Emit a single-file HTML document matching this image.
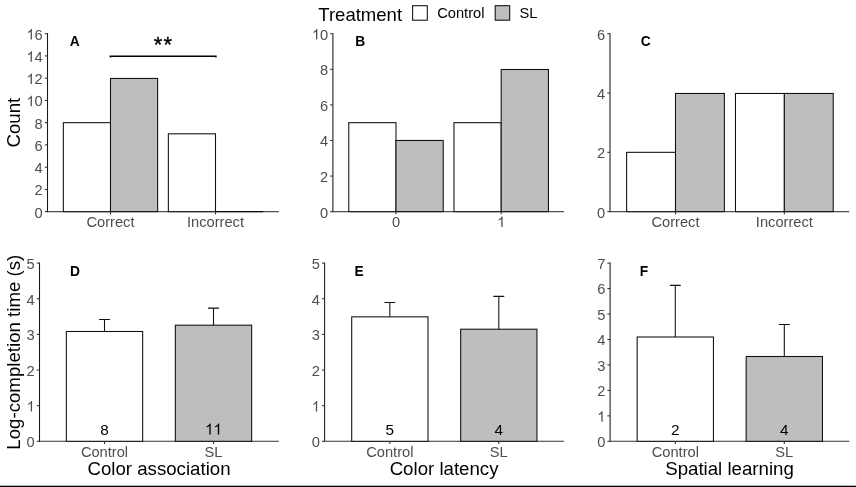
<!DOCTYPE html>
<html><head><meta charset="utf-8"><title>Figure</title>
<style>
html,body{margin:0;padding:0;background:#fff;}
body{width:856px;height:487px;overflow:hidden;}
svg{display:block;will-change:transform;font-family:"Liberation Sans",sans-serif;}
</style></head><body>
<svg width="856" height="487" viewBox="0 0 856 487">
<rect x="0" y="0" width="856" height="487" fill="#fff"/>
<text x="318.3" y="20.5" font-size="18.55" fill="#000">Treatment</text>
<rect x="412.6" y="5.7" width="14.7" height="14.5" fill="#fff" stroke="#111" stroke-width="1.07"/>
<text x="437.2" y="18.2" font-size="14.67" fill="#000">Control</text>
<rect x="495.2" y="5.7" width="14.5" height="14.5" fill="#BEBEBE" stroke="#111" stroke-width="1.07"/>
<text x="519.5" y="18.2" font-size="14.67" fill="#000">SL</text>
<path d="M47.50 211.65H278.80" stroke="#505050" stroke-width="1.07" fill="none"/>
<rect x="63.35" y="122.68" width="47.15" height="88.97" fill="#fff" stroke="#111" stroke-width="1.07"/>
<rect x="110.50" y="78.45" width="47.14" height="133.20" fill="#BEBEBE" stroke="#111" stroke-width="1.07"/>
<rect x="168.36" y="133.80" width="47.14" height="77.85" fill="#fff" stroke="#111" stroke-width="1.07"/>
<path d="M214.97 211.65H263.18" stroke="#111" stroke-width="1.34" fill="none"/>
<path d="M47.50 33.17V212.19" stroke="#1a1a1a" stroke-width="1.07" fill="none"/>
<path d="M44.80 211.65H47.50" stroke="#333333" stroke-width="1.07"/>
<text x="42.75" y="217.55" font-size="14.67" text-anchor="end" fill="#4D4D4D">0</text>
<path d="M44.80 189.41H47.50" stroke="#333333" stroke-width="1.07"/>
<text x="42.75" y="195.31" font-size="14.67" text-anchor="end" fill="#4D4D4D">2</text>
<path d="M44.80 167.16H47.50" stroke="#333333" stroke-width="1.07"/>
<text x="42.75" y="173.06" font-size="14.67" text-anchor="end" fill="#4D4D4D">4</text>
<path d="M44.80 144.92H47.50" stroke="#333333" stroke-width="1.07"/>
<text x="42.75" y="150.82" font-size="14.67" text-anchor="end" fill="#4D4D4D">6</text>
<path d="M44.80 122.68H47.50" stroke="#333333" stroke-width="1.07"/>
<text x="42.75" y="128.58" font-size="14.67" text-anchor="end" fill="#4D4D4D">8</text>
<path d="M44.80 100.43H47.50" stroke="#333333" stroke-width="1.07"/>
<path transform="translate(26.43,106.33) scale(0.00716,-0.00716)" d="M763 0H583V1147Q518 1085 412.5 1023Q307 961 223 930V1104Q374 1175 487 1276Q600 1377 647 1472H763Z" fill="#4D4D4D"/>
<text x="34.59" y="106.33" font-size="14.67" fill="#4D4D4D">0</text>
<path d="M44.80 78.19H47.50" stroke="#333333" stroke-width="1.07"/>
<path transform="translate(26.43,84.09) scale(0.00716,-0.00716)" d="M763 0H583V1147Q518 1085 412.5 1023Q307 961 223 930V1104Q374 1175 487 1276Q600 1377 647 1472H763Z" fill="#4D4D4D"/>
<text x="34.59" y="84.09" font-size="14.67" fill="#4D4D4D">2</text>
<path d="M44.80 55.94H47.50" stroke="#333333" stroke-width="1.07"/>
<path transform="translate(26.43,61.84) scale(0.00716,-0.00716)" d="M763 0H583V1147Q518 1085 412.5 1023Q307 961 223 930V1104Q374 1175 487 1276Q600 1377 647 1472H763Z" fill="#4D4D4D"/>
<text x="34.59" y="61.84" font-size="14.67" fill="#4D4D4D">4</text>
<path d="M44.80 33.70H47.50" stroke="#333333" stroke-width="1.07"/>
<path transform="translate(26.43,39.60) scale(0.00716,-0.00716)" d="M763 0H583V1147Q518 1085 412.5 1023Q307 961 223 930V1104Q374 1175 487 1276Q600 1377 647 1472H763Z" fill="#4D4D4D"/>
<text x="34.59" y="39.60" font-size="14.67" fill="#4D4D4D">6</text>
<path d="M110.50 211.65V214.35" stroke="#333333" stroke-width="1.07"/>
<text x="110.50" y="227.10" font-size="14.67" text-anchor="middle" fill="#4D4D4D">Correct</text>
<path d="M215.50 211.65V214.35" stroke="#333333" stroke-width="1.07"/>
<text x="215.50" y="227.10" font-size="14.67" text-anchor="middle" fill="#4D4D4D">Incorrect</text>
<text x="74.70" y="45.80" font-size="13.8" font-weight="bold" text-anchor="middle" fill="#000">A</text>
<path d="M110.4 57.6V56.3H215.9V57.6" stroke="#000" stroke-width="1.5" fill="none"/>
<text x="158.0" y="52.4" font-size="22" text-anchor="middle" fill="#000" stroke="#000" stroke-width="0.35">*</text>
<text x="167.7" y="52.4" font-size="22" text-anchor="middle" fill="#000" stroke="#000" stroke-width="0.35">*</text>
<path d="M332.90 211.65H563.90" stroke="#505050" stroke-width="1.07" fill="none"/>
<rect x="348.77" y="122.68" width="47.23" height="88.97" fill="#fff" stroke="#111" stroke-width="1.07"/>
<rect x="396.00" y="140.47" width="47.23" height="71.18" fill="#BEBEBE" stroke="#111" stroke-width="1.07"/>
<rect x="453.97" y="122.68" width="47.23" height="88.97" fill="#fff" stroke="#111" stroke-width="1.07"/>
<rect x="501.20" y="69.50" width="47.23" height="142.15" fill="#BEBEBE" stroke="#111" stroke-width="1.07"/>
<path d="M332.90 33.17V212.19" stroke="#1a1a1a" stroke-width="1.07" fill="none"/>
<path d="M330.20 211.65H332.90" stroke="#333333" stroke-width="1.07"/>
<text x="328.15" y="217.55" font-size="14.67" text-anchor="end" fill="#4D4D4D">0</text>
<path d="M330.20 176.06H332.90" stroke="#333333" stroke-width="1.07"/>
<text x="328.15" y="181.96" font-size="14.67" text-anchor="end" fill="#4D4D4D">2</text>
<path d="M330.20 140.47H332.90" stroke="#333333" stroke-width="1.07"/>
<text x="328.15" y="146.37" font-size="14.67" text-anchor="end" fill="#4D4D4D">4</text>
<path d="M330.20 104.88H332.90" stroke="#333333" stroke-width="1.07"/>
<text x="328.15" y="110.78" font-size="14.67" text-anchor="end" fill="#4D4D4D">6</text>
<path d="M330.20 69.29H332.90" stroke="#333333" stroke-width="1.07"/>
<text x="328.15" y="75.19" font-size="14.67" text-anchor="end" fill="#4D4D4D">8</text>
<path d="M330.20 33.70H332.90" stroke="#333333" stroke-width="1.07"/>
<path transform="translate(311.83,39.60) scale(0.00716,-0.00716)" d="M763 0H583V1147Q518 1085 412.5 1023Q307 961 223 930V1104Q374 1175 487 1276Q600 1377 647 1472H763Z" fill="#4D4D4D"/>
<text x="319.99" y="39.60" font-size="14.67" fill="#4D4D4D">0</text>
<path d="M396.00 211.65V214.35" stroke="#333333" stroke-width="1.07"/>
<text x="396.00" y="227.10" font-size="14.67" text-anchor="middle" fill="#4D4D4D">0</text>
<path d="M501.20 211.65V214.35" stroke="#333333" stroke-width="1.07"/>
<path transform="translate(497.12,227.10) scale(0.00716,-0.00716)" d="M763 0H583V1147Q518 1085 412.5 1023Q307 961 223 930V1104Q374 1175 487 1276Q600 1377 647 1472H763Z" fill="#4D4D4D"/>
<text x="360.30" y="45.80" font-size="13.8" font-weight="bold" text-anchor="middle" fill="#000">B</text>
<path d="M610.00 211.65H849.30" stroke="#505050" stroke-width="1.07" fill="none"/>
<rect x="626.63" y="152.33" width="48.87" height="59.32" fill="#fff" stroke="#111" stroke-width="1.07"/>
<rect x="675.50" y="93.46" width="48.87" height="118.19" fill="#BEBEBE" stroke="#111" stroke-width="1.07"/>
<rect x="735.48" y="93.46" width="48.87" height="118.19" fill="#fff" stroke="#111" stroke-width="1.07"/>
<rect x="784.35" y="93.46" width="48.87" height="118.19" fill="#BEBEBE" stroke="#111" stroke-width="1.07"/>
<path d="M610.00 33.17V212.19" stroke="#1a1a1a" stroke-width="1.07" fill="none"/>
<path d="M607.30 211.65H610.00" stroke="#333333" stroke-width="1.07"/>
<text x="605.25" y="217.55" font-size="14.67" text-anchor="end" fill="#4D4D4D">0</text>
<path d="M607.30 152.33H610.00" stroke="#333333" stroke-width="1.07"/>
<text x="605.25" y="158.23" font-size="14.67" text-anchor="end" fill="#4D4D4D">2</text>
<path d="M607.30 93.02H610.00" stroke="#333333" stroke-width="1.07"/>
<text x="605.25" y="98.92" font-size="14.67" text-anchor="end" fill="#4D4D4D">4</text>
<path d="M607.30 33.70H610.00" stroke="#333333" stroke-width="1.07"/>
<text x="605.25" y="39.60" font-size="14.67" text-anchor="end" fill="#4D4D4D">6</text>
<path d="M675.50 211.65V214.35" stroke="#333333" stroke-width="1.07"/>
<text x="675.50" y="227.10" font-size="14.67" text-anchor="middle" fill="#4D4D4D">Correct</text>
<path d="M784.35 211.65V214.35" stroke="#333333" stroke-width="1.07"/>
<text x="784.35" y="227.10" font-size="14.67" text-anchor="middle" fill="#4D4D4D">Incorrect</text>
<text x="645.70" y="45.80" font-size="13.8" font-weight="bold" text-anchor="middle" fill="#000">C</text>
<path d="M39.50 441.30H278.80" stroke="#333" stroke-width="1.07" fill="none"/>
<rect x="66.35" y="331.49" width="76.30" height="109.81" fill="#fff" stroke="#111" stroke-width="1.07"/>
<rect x="175.35" y="325.18" width="76.30" height="116.12" fill="#BEBEBE" stroke="#111" stroke-width="1.07"/>
<path d="M99.05 319.48H109.95M104.50 319.48V331.49" stroke="#111" stroke-width="1.07" fill="none"/>
<path d="M208.05 308.15H218.95M213.50 308.15V325.18" stroke="#111" stroke-width="1.07" fill="none"/>
<text x="104.50" y="434.50" font-size="15.3" text-anchor="middle" fill="#000">8</text>
<path transform="translate(204.99,434.50) scale(0.00747,-0.00747)" d="M763 0H583V1147Q518 1085 412.5 1023Q307 961 223 930V1104Q374 1175 487 1276Q600 1377 647 1472H763Z" fill="#000"/>
<path transform="translate(213.50,434.50) scale(0.00747,-0.00747)" d="M763 0H583V1147Q518 1085 412.5 1023Q307 961 223 930V1104Q374 1175 487 1276Q600 1377 647 1472H763Z" fill="#000"/>
<path d="M39.50 262.56V441.84" stroke="#1a1a1a" stroke-width="1.07" fill="none"/>
<path d="M36.80 441.30H39.50" stroke="#333333" stroke-width="1.07"/>
<text x="34.75" y="447.20" font-size="14.67" text-anchor="end" fill="#4D4D4D">0</text>
<path d="M36.80 405.66H39.50" stroke="#333333" stroke-width="1.07"/>
<path transform="translate(26.59,411.56) scale(0.00716,-0.00716)" d="M763 0H583V1147Q518 1085 412.5 1023Q307 961 223 930V1104Q374 1175 487 1276Q600 1377 647 1472H763Z" fill="#4D4D4D"/>
<path d="M36.80 370.02H39.50" stroke="#333333" stroke-width="1.07"/>
<text x="34.75" y="375.92" font-size="14.67" text-anchor="end" fill="#4D4D4D">2</text>
<path d="M36.80 334.38H39.50" stroke="#333333" stroke-width="1.07"/>
<text x="34.75" y="340.28" font-size="14.67" text-anchor="end" fill="#4D4D4D">3</text>
<path d="M36.80 298.74H39.50" stroke="#333333" stroke-width="1.07"/>
<text x="34.75" y="304.64" font-size="14.67" text-anchor="end" fill="#4D4D4D">4</text>
<path d="M36.80 263.10H39.50" stroke="#333333" stroke-width="1.07"/>
<text x="34.75" y="269.00" font-size="14.67" text-anchor="end" fill="#4D4D4D">5</text>
<path d="M104.50 441.30V444.00" stroke="#333333" stroke-width="1.07"/>
<text x="104.50" y="456.60" font-size="14.67" text-anchor="middle" fill="#4D4D4D">Control</text>
<path d="M213.50 441.30V444.00" stroke="#333333" stroke-width="1.07"/>
<text x="213.50" y="456.60" font-size="14.67" text-anchor="middle" fill="#4D4D4D">SL</text>
<text x="74.90" y="276.00" font-size="13.8" font-weight="bold" text-anchor="middle" fill="#000">D</text>
<path d="M324.60 441.30H563.90" stroke="#333" stroke-width="1.07" fill="none"/>
<rect x="351.72" y="316.85" width="76.26" height="124.45" fill="#fff" stroke="#111" stroke-width="1.07"/>
<rect x="460.67" y="329.21" width="76.26" height="112.09" fill="#BEBEBE" stroke="#111" stroke-width="1.07"/>
<path d="M384.40 302.41H395.30M389.85 302.41V316.85" stroke="#111" stroke-width="1.07" fill="none"/>
<path d="M493.35 296.39H504.25M498.80 296.39V329.21" stroke="#111" stroke-width="1.07" fill="none"/>
<text x="389.85" y="434.50" font-size="15.3" text-anchor="middle" fill="#000">5</text>
<text x="498.80" y="434.50" font-size="15.3" text-anchor="middle" fill="#000">4</text>
<path d="M324.60 262.56V441.84" stroke="#1a1a1a" stroke-width="1.07" fill="none"/>
<path d="M321.90 441.30H324.60" stroke="#333333" stroke-width="1.07"/>
<text x="319.85" y="447.20" font-size="14.67" text-anchor="end" fill="#4D4D4D">0</text>
<path d="M321.90 405.66H324.60" stroke="#333333" stroke-width="1.07"/>
<path transform="translate(311.69,411.56) scale(0.00716,-0.00716)" d="M763 0H583V1147Q518 1085 412.5 1023Q307 961 223 930V1104Q374 1175 487 1276Q600 1377 647 1472H763Z" fill="#4D4D4D"/>
<path d="M321.90 370.02H324.60" stroke="#333333" stroke-width="1.07"/>
<text x="319.85" y="375.92" font-size="14.67" text-anchor="end" fill="#4D4D4D">2</text>
<path d="M321.90 334.38H324.60" stroke="#333333" stroke-width="1.07"/>
<text x="319.85" y="340.28" font-size="14.67" text-anchor="end" fill="#4D4D4D">3</text>
<path d="M321.90 298.74H324.60" stroke="#333333" stroke-width="1.07"/>
<text x="319.85" y="304.64" font-size="14.67" text-anchor="end" fill="#4D4D4D">4</text>
<path d="M321.90 263.10H324.60" stroke="#333333" stroke-width="1.07"/>
<text x="319.85" y="269.00" font-size="14.67" text-anchor="end" fill="#4D4D4D">5</text>
<path d="M389.85 441.30V444.00" stroke="#333333" stroke-width="1.07"/>
<text x="389.85" y="456.60" font-size="14.67" text-anchor="middle" fill="#4D4D4D">Control</text>
<path d="M498.80 441.30V444.00" stroke="#333333" stroke-width="1.07"/>
<text x="498.80" y="456.60" font-size="14.67" text-anchor="middle" fill="#4D4D4D">SL</text>
<text x="359.10" y="276.00" font-size="13.8" font-weight="bold" text-anchor="middle" fill="#000">E</text>
<path d="M610.10 441.30H849.30" stroke="#333" stroke-width="1.07" fill="none"/>
<rect x="637.15" y="337.00" width="76.30" height="104.30" fill="#fff" stroke="#111" stroke-width="1.07"/>
<rect x="746.15" y="356.50" width="76.30" height="84.80" fill="#BEBEBE" stroke="#111" stroke-width="1.07"/>
<path d="M669.85 285.40H680.75M675.30 285.40V337.00" stroke="#111" stroke-width="1.07" fill="none"/>
<path d="M778.85 324.50H789.75M784.30 324.50V356.50" stroke="#111" stroke-width="1.07" fill="none"/>
<text x="675.30" y="434.50" font-size="15.3" text-anchor="middle" fill="#000">2</text>
<text x="784.30" y="434.50" font-size="15.3" text-anchor="middle" fill="#000">4</text>
<path d="M610.10 262.56V441.84" stroke="#1a1a1a" stroke-width="1.07" fill="none"/>
<path d="M607.40 441.30H610.10" stroke="#333333" stroke-width="1.07"/>
<text x="605.35" y="447.20" font-size="14.67" text-anchor="end" fill="#4D4D4D">0</text>
<path d="M607.40 415.84H610.10" stroke="#333333" stroke-width="1.07"/>
<path transform="translate(597.19,421.74) scale(0.00716,-0.00716)" d="M763 0H583V1147Q518 1085 412.5 1023Q307 961 223 930V1104Q374 1175 487 1276Q600 1377 647 1472H763Z" fill="#4D4D4D"/>
<path d="M607.40 390.39H610.10" stroke="#333333" stroke-width="1.07"/>
<text x="605.35" y="396.29" font-size="14.67" text-anchor="end" fill="#4D4D4D">2</text>
<path d="M607.40 364.93H610.10" stroke="#333333" stroke-width="1.07"/>
<text x="605.35" y="370.83" font-size="14.67" text-anchor="end" fill="#4D4D4D">3</text>
<path d="M607.40 339.47H610.10" stroke="#333333" stroke-width="1.07"/>
<text x="605.35" y="345.37" font-size="14.67" text-anchor="end" fill="#4D4D4D">4</text>
<path d="M607.40 314.01H610.10" stroke="#333333" stroke-width="1.07"/>
<text x="605.35" y="319.91" font-size="14.67" text-anchor="end" fill="#4D4D4D">5</text>
<path d="M607.40 288.56H610.10" stroke="#333333" stroke-width="1.07"/>
<text x="605.35" y="294.46" font-size="14.67" text-anchor="end" fill="#4D4D4D">6</text>
<path d="M607.40 263.10H610.10" stroke="#333333" stroke-width="1.07"/>
<text x="605.35" y="269.00" font-size="14.67" text-anchor="end" fill="#4D4D4D">7</text>
<path d="M675.30 441.30V444.00" stroke="#333333" stroke-width="1.07"/>
<text x="675.30" y="456.60" font-size="14.67" text-anchor="middle" fill="#4D4D4D">Control</text>
<path d="M784.30 441.30V444.00" stroke="#333333" stroke-width="1.07"/>
<text x="784.30" y="456.60" font-size="14.67" text-anchor="middle" fill="#4D4D4D">SL</text>
<text x="644.00" y="276.00" font-size="13.8" font-weight="bold" text-anchor="middle" fill="#000">F</text>
<text x="159.0" y="475.3" font-size="18.67" text-anchor="middle" fill="#000">Color association</text>
<text x="444.1" y="475.3" font-size="18.67" text-anchor="middle" fill="#000">Color latency</text>
<text x="729.5" y="475.3" font-size="18.67" text-anchor="middle" fill="#000">Spatial learning</text>
<text transform="translate(19.8,122.6) rotate(-90)" font-size="18.67" text-anchor="middle" fill="#000">Count</text>
<text transform="translate(19.8,352.2) rotate(-90)" font-size="18.67" text-anchor="middle" fill="#000">Log-completion time (s)</text>
<rect x="0" y="485.7" width="856" height="1.3" fill="#000"/>
</svg>
</body></html>
